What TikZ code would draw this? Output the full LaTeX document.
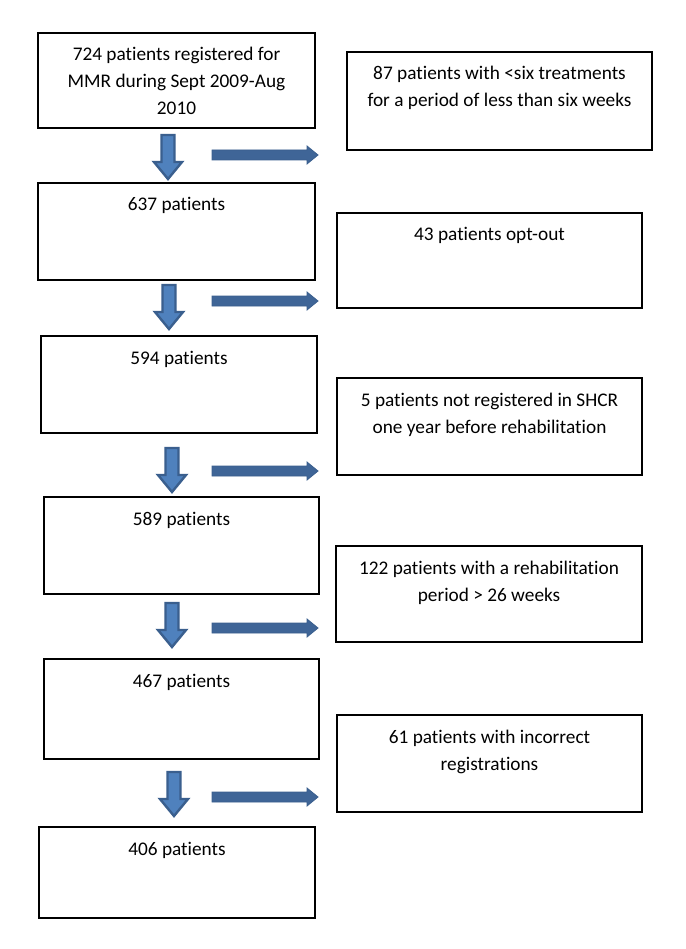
\documentclass[tikz,border=0pt]{standalone}
\usepackage{fontspec}
\setmainfont{Carlito}[Ligatures=NoCommon]
\usetikzlibrary{calc}
\definecolor{arrfill}{HTML}{4F81BD}
\definecolor{arrline}{HTML}{3A5F8E}
\definecolor{arrdark}{HTML}{3F6597}
\newcommand\boxtext[3]{\parbox[c][#2pt][t]{#1pt}{\centering\fontsize{19.3}{27}\selectfont\rule{0pt}{28pt}#3\par}}
\tikzset{
  flowbox/.style={draw=black, line width=2.7pt, inner sep=0pt, outer sep=0pt, fill=white},
  dnarrow/.style={fill=arrfill, draw=arrline, line width=2.4pt, line join=miter},
  rtarrow/.style={fill=arrdark, draw=arrline, line width=0.8pt, line join=miter}
}
\begin{document}
\begin{tikzpicture}[x=1pt,y=-1pt]
\fill[white] (0,0) rectangle (685,949);
\useasboundingbox (0,0) rectangle (685,949);

% main column
\node[flowbox] (b1) at (176.5,80.5) {\boxtext{277}{95}{724 patients registered for\\MMR during Sept 2009-Aug\\2010}};
\node[flowbox] (b2) at (176.5,231.5) {\boxtext{277}{97}{637 patients}};
\node[flowbox] (b3) at (179,384.5) {\boxtext{276}{97}{594 patients}};
\node[flowbox] (b4) at (181.5,545.5) {\boxtext{275}{97}{589 patients}};
\node[flowbox] (b5) at (181.5,709) {\boxtext{275}{100}{467 patients}};
\node[flowbox] (b6) at (177,872.5) {\boxtext{276}{91}{406 patients}};

% exclusion column
\node[flowbox] (r1) at (499.5,101) {\boxtext{305}{98}{87 patients with <six treatments\\for a period of less than six weeks}};
\node[flowbox] (r2) at (489.5,260.5) {\boxtext{305}{95}{43 patients opt-out}};
\node[flowbox] (r3) at (489.5,426.5) {\boxtext{305}{97}{5 patients not registered in SHCR\\one year before rehabilitation}};
\node[flowbox] (r4) at (489,594) {\boxtext{306}{96}{122 patients with a rehabilitation\\period > 26 weeks}};
\node[flowbox] (r5) at (489.5,763.5) {\boxtext{305}{97}{61 patients with incorrect\\registrations}};

% down arrows (from box to next box)
\coordinate (d1) at ($(b1.south)+(-8.5,7)$);
\coordinate (d2) at ($(b2.south)+(-7.5,5)$);
\coordinate (d3) at ($(b3.south)+(-7,15)$);
\coordinate (d4) at ($(b4.south)+(-9.5,9)$);
\coordinate (d5) at ($(b5.south)+(-7.5,13)$);
\foreach \d in {d1,d2,d3,d4,d5}{
  \draw[dnarrow] (\d) ++(-6.5,0) -- ++(13,0) -- ++(0,27) -- ++(7.5,0) -- ++(-14,17) -- ++(-14,-17) -- ++(7.5,0) -- cycle;
}

% right arrows (toward exclusion boxes)
\coordinate (a1) at (212,155);
\coordinate (a2) at (212,301);
\coordinate (a3) at (212,471);
\coordinate (a4) at (212,628);
\coordinate (a5) at (212,797);
\foreach \a in {a1,a2,a3,a4,a5}{
  \draw[rtarrow] (\a) ++(0,-5) -- ++(95,0) -- ++(0,-4) -- ++(11,9) -- ++(-11,9) -- ++(0,-4) -- ++(-95,0) -- cycle;
}
\end{tikzpicture}
\end{document}
